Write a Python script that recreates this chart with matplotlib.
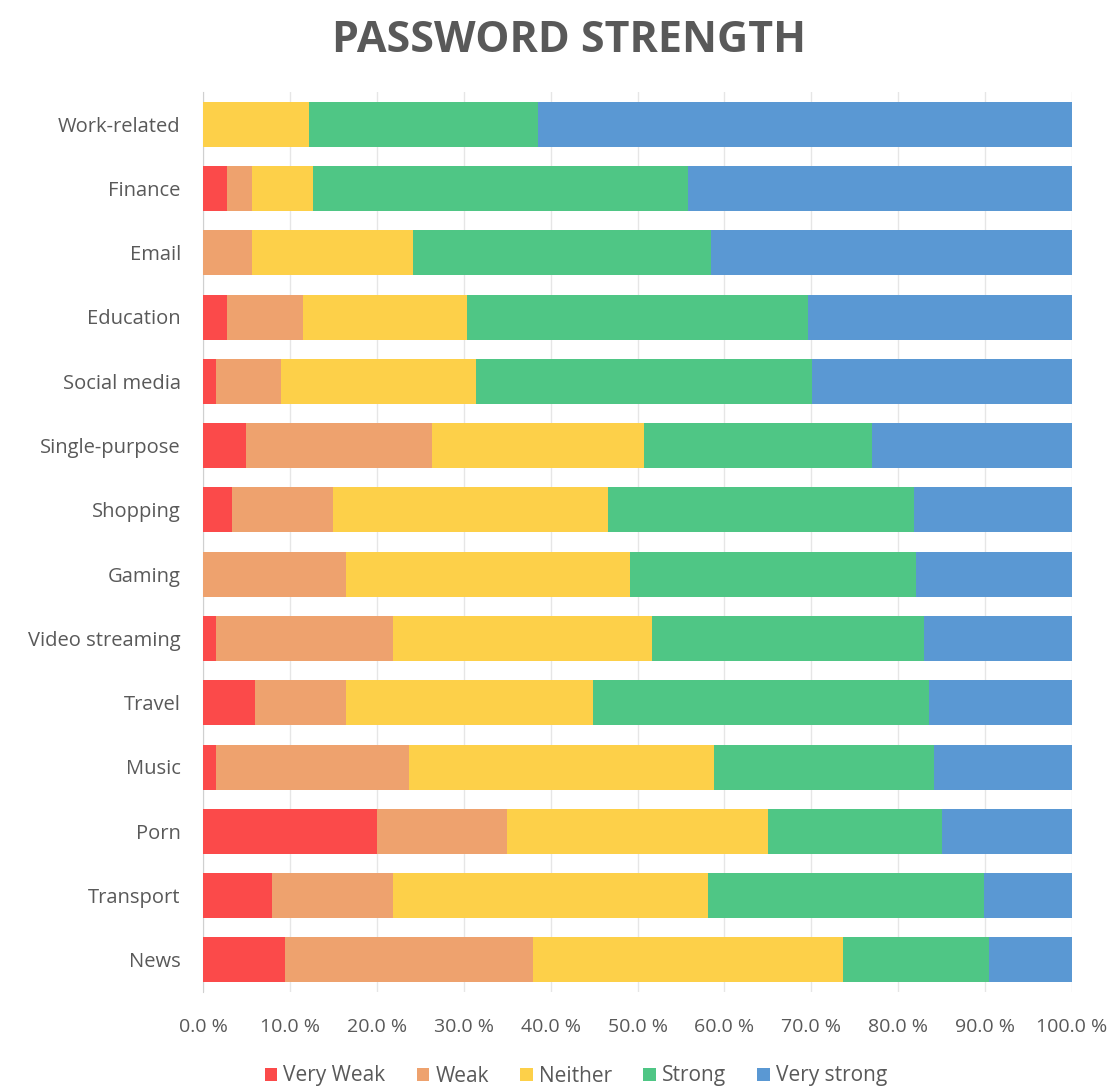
import numpy as np
import matplotlib.pyplot as plt
from matplotlib.ticker import FuncFormatter

plt.rcParams['font.family'] = ['Open Sans', 'DejaVu Sans']

# Share of passwords per strength level, by site category (percent)
categories = ['Work-related', 'Finance', 'Email', 'Education', 'Social media',
              'Single-purpose', 'Shopping', 'Gaming', 'Video streaming', 'Travel',
              'Music', 'Porn', 'Transport', 'News']
very_weak = [0.0, 2.8, 0.0, 2.8, 1.5, 4.9, 3.3, 0.0, 1.5, 6.0, 1.5, 20.0, 7.9, 9.4]
weak = [0.0, 2.8, 5.6, 8.7, 7.5, 21.4, 11.7, 16.4, 20.4, 10.4, 22.2, 15.0, 14.0, 28.6]
neither = [12.2, 7.1, 18.6, 18.9, 22.4, 24.4, 31.6, 32.7, 29.8, 28.5, 35.1, 30.0, 36.2, 35.7]
strong = [26.4, 43.1, 34.3, 39.2, 38.7, 26.3, 35.2, 33.0, 31.3, 38.7, 25.3, 20.0, 31.8, 16.8]
very_strong = [61.4, 44.2, 41.5, 30.4, 29.9, 23.0, 18.2, 17.9, 17.0, 16.4, 15.9, 15.0, 10.1, 9.5]

levels = ['Very Weak', 'Weak', 'Neither', 'Strong', 'Very strong']
colors = ['#fb4a4a', '#eea26e', '#fdd049', '#4fc685', '#5a98d3']
series = [very_weak, weak, neither, strong, very_strong]

text_color = '#595959'

fig = plt.figure(figsize=(11.14, 10.88), dpi=100)
ax = fig.add_axes([203 / 1114, 1 - 992 / 1088, 869 / 1114, 900 / 1088])

y = np.arange(len(categories))
left = np.zeros(len(categories))
for name, vals, col in zip(levels, series, colors):
    vals = np.array(vals)
    ax.barh(y, vals, left=left, height=0.7, color=col, label=name, zorder=3)
    left += vals

ax.set_ylim(len(categories) - 0.5, -0.5)
ax.set_xlim(0, 100)
ax.set_yticks(y)
ax.set_yticklabels(categories, fontsize=14.5, color=text_color)
ax.set_xticks(np.arange(0, 101, 10))
ax.xaxis.set_major_formatter(FuncFormatter(lambda v, p: f'{v:.1f} %'))
ax.tick_params(axis='x', labelsize=14, labelcolor=text_color, length=0, pad=19)
ax.tick_params(axis='y', length=0, pad=16)

ax.grid(axis='x', color='#e6e6e6', linewidth=1, zorder=0)
for side in ['top', 'right', 'bottom']:
    ax.spines[side].set_visible(False)
ax.spines['left'].set_color('#d0d0d0')

fig.text(569 / 1114, 1 - 40 / 1088, 'PASSWORD STRENGTH', ha='center', va='center',
         fontsize=31, fontweight='bold', color=text_color)

fig.legend(loc='center', bbox_to_anchor=(576 / 1114, 1 - 1076 / 1088), ncol=5,
           frameon=False, fontsize=15, handlelength=0.6, handleheight=0.6,
           handletextpad=0.3, columnspacing=1.5, labelcolor=text_color)

fig.savefig('out.png', dpi=100, facecolor='white')
